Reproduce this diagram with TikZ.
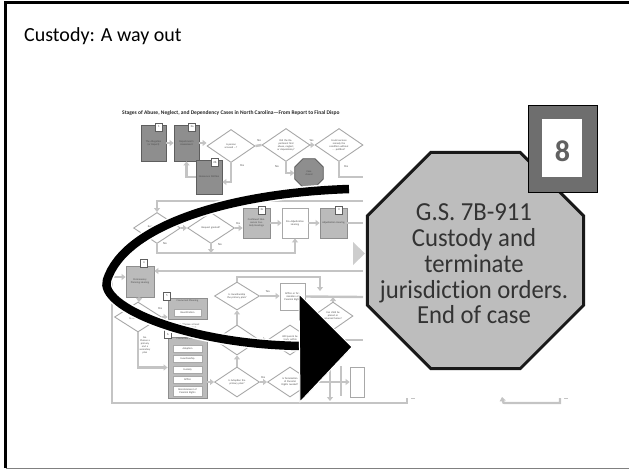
\documentclass[tikz,border=0pt]{standalone}
\usepackage{fontspec}
\setmainfont{Carlito}
\newfontfamily\octfont{Carlito}[Ligatures=NoCommon,FakeStretch=0.95]
\usetikzlibrary{arrows.meta,shapes.geometric,calc}
\definecolor{fcline}{HTML}{C4C4C4}
\definecolor{fcdark}{HTML}{8E8E8E}
\definecolor{fcdarkb}{HTML}{5E5E5E}
\definecolor{fclight}{HTML}{BBBBBB}
\definecolor{fcdia}{HTML}{A8A8A8}
\definecolor{octfill}{HTML}{BDBDBD}
\definecolor{octtext}{HTML}{333333}
\definecolor{tagbox}{HTML}{6E6E6E}
\definecolor{framegray}{HTML}{808080}
\begin{document}
\begin{tikzpicture}[x=1pt,y=-1pt,
  fcl/.style={draw=fcline,line width=2.4pt},
  fca/.style={fcl,-{Triangle[width=6pt,length=4pt]}},
  fctxt/.style={font=\fontsize{2.6}{3}\selectfont,text=black!70,align=center},
  fclab/.style={font=\fontsize{3}{3}\selectfont,text=black!70,inner sep=0.6pt},
  darkbox/.style={draw=fcdarkb,fill=fcdark,line width=0.8pt,minimum width=25pt,minimum height=36pt,inner sep=0.5pt,fctxt,text width=21pt},
  lightbox/.style={draw=fcdarkb!70,fill=fclight,line width=0.8pt,minimum width=27pt,minimum height=30pt,inner sep=0.5pt,fctxt,text width=23pt},
  whitebox/.style={draw=fcdia,fill=white,line width=0.8pt,minimum width=26pt,minimum height=30pt,inner sep=0.5pt,fctxt,text width=22pt},
  innerbox/.style={draw=fcdia,fill=white,line width=0.6pt,minimum width=29pt,minimum height=7pt,inner sep=0.2pt,fctxt},
  dia/.style={diamond,draw=fcdia,fill=white,line width=0.9pt,minimum width=48pt,minimum height=33pt,inner sep=0pt,fctxt,text width=20pt},
  tagnode/.style={draw=fcdarkb,fill=white,line width=1pt,minimum width=7pt,minimum height=8pt,inner sep=0pt,font=\fontsize{3}{3}\selectfont,text=black!70},
  ccoct/.style={regular polygon,regular polygon sides=8,minimum size=31pt,draw=fcdarkb,fill=fcdark,line width=0.8pt,inner sep=0pt,fctxt}
]
\useasboundingbox (0,0) rectangle (629,471);
% slide frame
\draw[line width=2.5pt,black] (5.5,468) -- (5.5,2.5) -- (629,2.5);
\draw[line width=1.5pt,framegray] (5.5,468.5) -- (629,468.5);
% slide title
\node[anchor=base west,inner sep=0pt,font=\fontsize{20}{24}\selectfont] (title) at (24,41) {Custody: A way out};

% ===== flowchart (background picture) =====
\node[anchor=west,inner sep=0pt,font=\bfseries\fontsize{5.5}{6}\selectfont,text=black!85] (fctitle) at (122,113) {Stages of Abuse, Neglect, and Dependency Cases in North Carolina---From Report to Final Dispo};

% row 1
\node[darkbox] (b1) at (153.5,143) {The Allegation (or Report)};
\node[darkbox] (b2) at (186.5,143) {Department's Assessment};
\node[dia] (d1) at (231,146) {Is person accused ...?};
\node[dia] (d2) at (286,145) {Did the Department find abuse, neglect, or dependency?};
\node[dia] (d3) at (339,145) {Could services remedy the condition without ... petition?};
\node[darkbox,minimum width=26pt,minimum height=34pt] (b3) at (209,177) {Nonsecure Petition};
\node[ccoct] (cc) at (309,173) {Case\\closed};
\node[tagnode] (t1) at (159,127) {1};
\node[tagnode] (t2) at (192,127) {2a};
\node[tagnode] (t3) at (215,162) {2b};

\draw[fca] (b1) -- (b2);
\draw[fca] (b2.east) -- (b2.east -| d1.west);
\draw[fcl] (d1.east) -- (d2.west) node[fclab,pos=0.6,above=2pt] {No};
\draw[fca] (d2.east) -- (d3.west) node[fclab,pos=0.3,above=2pt] {Yes};
\coordinate (j1) at (231,182);
\draw[fca] (d1.south) -- (j1) -- (j1 -| b3.east);
\node[fclab] (ly1) at (242,166) {Yes};
\draw[fca] (b3.west) -| (b2.south);
\draw[fca] (d2.south) |- (cc.west);
\node[fclab] (ln1) at (277,167) {No};
\coordinate (d3out) at (363,177);
\draw[fcl] (d3.south) |- (d3out);
\node[fclab] (ly2) at (346,167) {Yes};

% row 2
\coordinate (r2in) at (363,201);
\node[dia,minimum width=47pt,minimum height=31pt] (d4) at (157,228) {Request for nonsecure custody?};
\node[dia,minimum width=47pt,minimum height=31pt] (d5) at (211,228) {Request granted?};
\node[lightbox] (b4) at (256.5,223) {Continued Nonsecure Custody Hearings};
\node[whitebox] (b5) at (295,223) {Pre-Adjudication Hearing};
\node[lightbox] (b6) at (333.5,223) {Adjudication Hearing};
\node[tagnode] (t4) at (262,210) {2c};
\node[tagnode] (t5) at (339,210) {3};
\coordinate (r2out) at (363,223);
\draw[fca] (r2in) -| (d4.north);
\draw[fca] (d4) -- (d5);
\draw[fca] (d5.east) -- (d5.east -| b4.west) node[fclab,pos=0.4,above=2pt] {Yes};
\draw[fca] (b4) -- (b5);
\draw[fca] (b5) -- (b6);
\draw[fcl] (b6.east) -- (r2out);
\coordinate (y253) at (0,253);
\draw[fca] (d4.south) |- (b5.south |- y253) -- (b5.south);
\node[fclab] (ln2) at (165,244) {No};
\draw[fca] (d5.south) -- (d5.south |- y253);
\node[fclab] (ln3) at (220,245) {No};
\fill[fcline!85!white] (353,242) -- (365,253.5) -- (353,265) -- cycle;

% row 3
\coordinate (r3in) at (363,271);
\node[lightbox,minimum width=28pt,minimum height=31pt] (b7) at (140,281.5) {Permanency Planning Hearing};
\node[tagnode] (t6) at (144,263) {4};
\node[dia,minimum width=47pt,minimum height=30pt] (d6) at (138,317) {Is court ready to make a plan?};
\node[lightbox,minimum width=39pt,minimum height=21pt] (cp) at (187.5,309) {};
\node[fctxt,anchor=north,inner sep=1pt] (cpt) at (cp.north) {Concurrent Planning};
\node[innerbox,minimum width=27pt] (reu) at (187.5,313) {Reunification};
\node[tagnode] (t7) at (167,296) {5};
\node[fctxt,text width=28pt] (andtxt) at (188,326) {AND (Choose at least one other plan)};
\node[lightbox,minimum width=39pt,minimum height=61pt] (pp) at (187.5,367.5) {};
\node[fctxt,anchor=north,inner sep=1pt] (ppt) at (pp.north) {Concurrent Planning};
\node[innerbox] (ado) at (187.5,348.5) {Adoption};
\node[innerbox] (gua) at (187.5,359) {Guardianship};
\node[innerbox] (cus) at (187.5,369.5) {Custody};
\node[innerbox] (app) at (187.5,379.5) {APPLA};
\node[innerbox,minimum height=10pt,text width=26pt] (rei) at (187.5,391.5) {Reinstatement of Parental Rights};
\node[tagnode] (t8) at (168,334) {6};
\node[fctxt,text width=12pt,anchor=north] (notxt) at (145,333) {No. Choose a primary and a secondary plan};

\node[dia,minimum width=45pt,minimum height=28pt] (d7) at (237,296) {Is Guardianship the primary plan?};
\node[whitebox,minimum width=25pt,minimum height=27pt] (b8) at (292.5,296.5) {APPLA or Termination of Parental Rights};
\node[dia,minimum width=45pt,minimum height=30pt] (d8) at (237,340) {Is Reunification the primary plan?};
\node[dia,minimum width=45pt,minimum height=30pt] (d9) at (290,340) {Will parent be ready within 6 months?};
\node[dia,minimum width=40pt,minimum height=28pt] (d10) at (333,316) {Can child be placed or returned home?};
\node[dia,minimum width=45pt,minimum height=30pt] (d11) at (237,382) {Is Adoption the primary plan?};
\node[dia,minimum width=45pt,minimum height=30pt] (d12) at (290,382) {Is Termination of Parental Rights needed?};
\node[whitebox,minimum width=14pt,minimum height=30pt,text width=10pt] (bx) at (357,382) {};

\draw[fca] (r3in) -- (r3in -| b7.east);
\draw[fca] (b7) -- (d6);
\draw[fca] (d6.east) -- (d6.east -| cp.west);
\node[fclab] (ly3) at (160,309) {Yes};
\draw[fca] (d6.south) |- (pp.west);
\draw[fca] (pp.east |- d11.west) -- (d11.west);
\draw[fca] (d11) -- (d8);
\draw[fca] (d8) -- (d7);
\draw[fca] (d7.east) -- (d7.east -| b8.west) node[fclab,pos=0.4,above=2pt] {Yes};
\coordinate (c1) at (320,277);
\coordinate (c2) at (320,291);
\draw[fca] (d7.north) |- (c1) -- (c2);
\coordinate (r3b) at (363,297);
\draw[fcl] (b8.east) -- (r3b);
\draw[fca] (d10.north) -- (d10.north |- r3b);
\draw[fca] (d8) -- (d9);
\coordinate (r3c) at (363,340);
\draw[fcl] (d9.east) -- (r3c);
\draw[fca] (d11) -- (d12) node[fclab,pos=0.45,above=2pt] {Yes};
\draw[fca] (d12.east) -- (bx.west);
\coordinate (v1) at (330,363);
\coordinate (v2) at (330,401);
\draw[fca] (v1) -- (v2);
\coordinate (v3) at (341,366);
\coordinate (v4) at (341,396);
\draw[fcl] (v3) -- (v4);

% outer loop and bottom line
\coordinate (bl1) at (112,403);
\coordinate (bl2) at (407,403);
\coordinate (bl3) at (407,398);
\coordinate (y277) at (0,277);
\draw[fca] (bl3) -- (bl2) -- (bl1) |- (b7.west |- y277);
\draw[fcline,line width=1pt] (411,398.5) -- (415,398.5);
\coordinate (br1) at (502,397);
\coordinate (br2) at (508,403);
\coordinate (br3) at (560,403);
\coordinate (br4) at (560,398);
\draw[fca] (br4) -- (br3) -- (br2) .. controls (503,403) .. (br1);
\draw[fcline,line width=1pt] (564,398.5) -- (568,398.5);

% ===== big black arrow =====
\coordinate (aS) at (349,189);
\coordinate (aM) at (107,280);
\coordinate (aE) at (303,346);
\draw[line width=8.5pt,black,preaction={draw=white,line width=11.5pt}]
  (aS) .. controls (230,193) and (125,225) .. (aM)
       .. controls (98,307) and (190,345) .. (aE);
\filldraw[fill=black,draw=white,line width=1pt] (299,294) -- (352,347) -- (300,402) -- cycle;

% ===== zoomed octagon =====
\node[regular polygon,regular polygon sides=8,minimum size=234pt,draw=black!90,line width=3pt,fill=octfill,inner sep=0pt] (oct) at (475.5,260.5) {};
\node[align=center,inner sep=0pt,font=\octfont\fontsize{26}{25.8}\selectfont,text=octtext] (octtxt) at (474,264) {G.S. 7B-911\\Custody and\\terminate\\jurisdiction orders.\\End of case};
\node[draw=black,fill=tagbox,line width=0.8pt,minimum width=69pt,minimum height=87pt,inner sep=0pt] (tag8) at (562.5,148.5) {};
\node[fill=white,minimum width=40pt,minimum height=58pt,inner sep=0pt] (tag8in) at (561.7,148.3) {};
\node[inner sep=0pt,font=\bfseries\fontsize{30}{30}\selectfont,text=black!62] (num8) at (562.5,151) {8};
\end{tikzpicture}
\end{document}
